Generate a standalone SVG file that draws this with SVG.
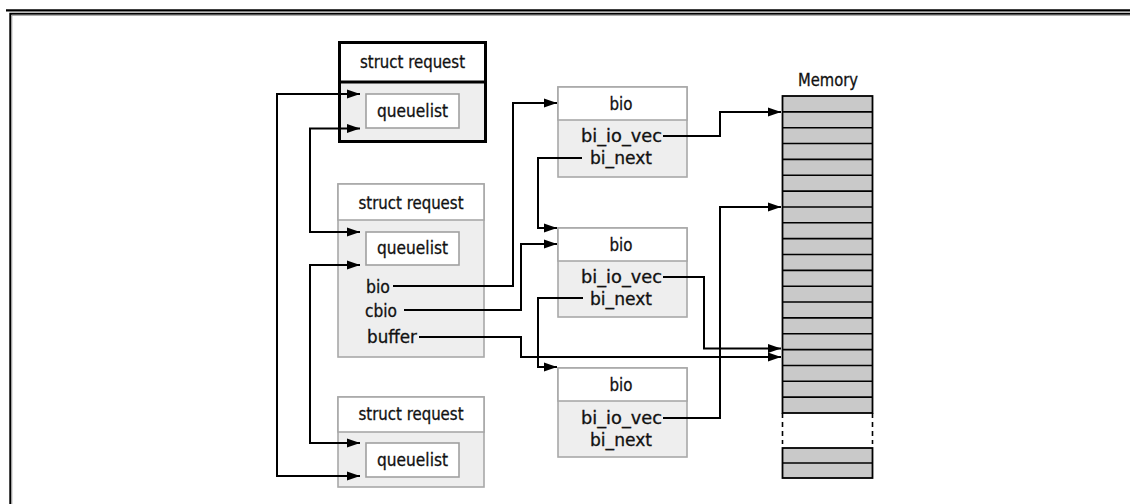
<svg xmlns="http://www.w3.org/2000/svg" width="1130" height="504" viewBox="0 0 1130 504">
<style>
text{font-family:"Liberation Sans Narrow","DejaVu Sans Condensed","Liberation Sans",Arial,sans-serif;font-size:18px;fill:#111;stroke:#111;stroke-width:0.3}
.c{text-anchor:middle}
.hdr{fill:#fff;stroke:#a8a8a8;stroke-width:1.6}
.body{fill:#eeeeee;stroke:#a8a8a8;stroke-width:1.6}
.ql{fill:#fff;stroke:#a0a0a0;stroke-width:1.6}
.conn{fill:none;stroke:#000;stroke-width:2}
.mem{fill:#c9c9c9;stroke:#000;stroke-width:1.8}
.row{stroke:#000;stroke-width:1.6}
</style>
<defs>
<marker id="ah" markerUnits="userSpaceOnUse" markerWidth="14" markerHeight="10" refX="13" refY="5" orient="auto-start-reverse">
<path d="M0,0.5 L13,5 L0,9.5 z" fill="#000"/>
</marker>
</defs>
<rect width="1130" height="504" fill="#fff"/>
<g id="frame">
<line x1="6" y1="10.3" x2="1130" y2="10.3" stroke="#000" stroke-width="2.2"/>
<path d="M10.3,504 V13.8 H1130" fill="none" stroke="#000" stroke-width="2"/>
<path d="M11.8,504 V15.3 H1130" fill="none" stroke="#999" stroke-width="1"/>
</g>
<g id="req1">
<rect x="339.5" y="42.5" width="146" height="99" fill="#eeeeee" stroke="#000" stroke-width="3"/>
<rect x="339.5" y="42.5" width="146" height="39.5" fill="#fff" stroke="#000" stroke-width="3"/>
<text class="c" x="412.5" y="67.5" textLength="105" lengthAdjust="spacingAndGlyphs">struct request</text>
<rect class="ql" x="366" y="94" width="93" height="34"/>
<text class="c" x="412.5" y="117" textLength="71" lengthAdjust="spacingAndGlyphs">queuelist</text>
</g>
<g id="req2">
<rect class="body" x="338" y="184" width="146" height="173"/>
<rect class="hdr" x="338" y="184" width="146" height="36"/>
<text class="c" x="411" y="208.5" textLength="105" lengthAdjust="spacingAndGlyphs">struct request</text>
<rect class="ql" x="366" y="232" width="93" height="33"/>
<text class="c" x="412.5" y="254" textLength="71" lengthAdjust="spacingAndGlyphs">queuelist</text>
<text x="366" y="292.5" textLength="24" lengthAdjust="spacingAndGlyphs">bio</text>
<text x="365" y="316.5" textLength="32" lengthAdjust="spacingAndGlyphs">cbio</text>
<text x="367" y="343" textLength="50" lengthAdjust="spacingAndGlyphs">buffer</text>
</g>
<g id="req3">
<rect class="body" x="338" y="397" width="146" height="90"/>
<rect class="hdr" x="338" y="397" width="146" height="35"/>
<text class="c" x="411" y="420" textLength="105" lengthAdjust="spacingAndGlyphs">struct request</text>
<rect class="ql" x="366" y="443" width="93" height="34"/>
<text class="c" x="412.5" y="465.5" textLength="71" lengthAdjust="spacingAndGlyphs">queuelist</text>
</g>
<g id="bio1">
<rect class="body" x="558" y="87" width="129" height="90"/>
<rect class="hdr" x="558" y="87" width="129" height="33"/>
<text class="c" x="621" y="110" textLength="23" lengthAdjust="spacingAndGlyphs">bio</text>
<text class="c" x="621.5" y="142" textLength="81" lengthAdjust="spacingAndGlyphs">bi_io_vec</text>
<text class="c" x="621" y="164" textLength="62" lengthAdjust="spacingAndGlyphs">bi_next</text>
</g>
<g id="bio2">
<rect class="body" x="558" y="228" width="129" height="89"/>
<rect class="hdr" x="558" y="228" width="129" height="33"/>
<text class="c" x="621" y="251" textLength="23" lengthAdjust="spacingAndGlyphs">bio</text>
<text class="c" x="621.5" y="283" textLength="81" lengthAdjust="spacingAndGlyphs">bi_io_vec</text>
<text class="c" x="621" y="305" textLength="62" lengthAdjust="spacingAndGlyphs">bi_next</text>
</g>
<g id="bio3">
<rect class="body" x="558" y="368" width="129" height="89"/>
<rect class="hdr" x="558" y="368" width="129" height="33"/>
<text class="c" x="621" y="391" textLength="23" lengthAdjust="spacingAndGlyphs">bio</text>
<text class="c" x="621.5" y="424" textLength="81" lengthAdjust="spacingAndGlyphs">bi_io_vec</text>
<text class="c" x="621" y="446" textLength="62" lengthAdjust="spacingAndGlyphs">bi_next</text>
</g>
<g id="memory">
<text class="c" x="828" y="86" textLength="60" lengthAdjust="spacingAndGlyphs">Memory</text>
<rect class="mem" x="782.5" y="96" width="90" height="317"/>
<path class="row" d="M782.5,111.85H872.5M782.5,127.7H872.5M782.5,143.55H872.5M782.5,159.4H872.5M782.5,175.25H872.5M782.5,191.1H872.5M782.5,206.95H872.5M782.5,222.8H872.5M782.5,238.65H872.5M782.5,254.5H872.5M782.5,270.35H872.5M782.5,286.2H872.5M782.5,302.05H872.5M782.5,317.9H872.5M782.5,333.75H872.5M782.5,349.6H872.5M782.5,365.45H872.5M782.5,381.3H872.5M782.5,397.15H872.5"/>
<path d="M782.5,413V444M872.5,413V444" stroke="#000" stroke-width="1.6" stroke-dasharray="5,4"/>
<rect class="mem" x="782.5" y="448" width="90" height="30"/>
<path class="row" d="M782.5,463H872.5"/>
</g>
<g id="connectors">
<path class="conn" marker-start="url(#ah)" marker-end="url(#ah)" d="M360,94 H277 V476 H360"/>
<path class="conn" marker-start="url(#ah)" marker-end="url(#ah)" d="M360,128.5 H310 V232 H360"/>
<path class="conn" marker-start="url(#ah)" marker-end="url(#ah)" d="M360,265 H310 V443 H360"/>
<path class="conn" marker-end="url(#ah)" d="M393,286 H513 V103 H557"/>
<path class="conn" marker-end="url(#ah)" d="M404,310 H521 V244 H557"/>
<path class="conn" marker-end="url(#ah)" d="M419,337 H521 V357 H781"/>
<path class="conn" marker-end="url(#ah)" d="M663,136 H720 V112 H781"/>
<path class="conn" marker-end="url(#ah)" d="M582,158 H538 V228 H557"/>
<path class="conn" marker-end="url(#ah)" d="M663,277 H704 V348.5 H781"/>
<path class="conn" marker-end="url(#ah)" d="M583,298 H538 V367 H557"/>
<path class="conn" marker-end="url(#ah)" d="M663,418 H720 V207 H781"/>
</g>
</svg>
